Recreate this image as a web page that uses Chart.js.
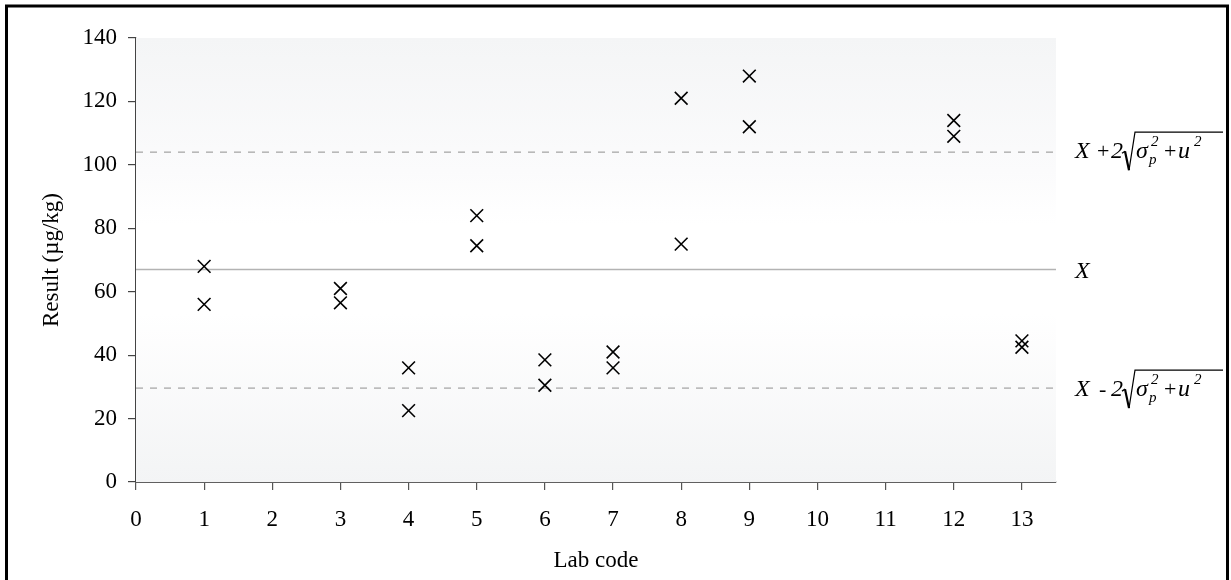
<!DOCTYPE html>
<html>
<head>
<meta charset="utf-8">
<script src="https://cdn.jsdelivr.net/npm/chart.js@4.4.1/dist/chart.umd.min.js"></script>
<style>
  html, body { margin: 0; padding: 0; background: #fff; }
  canvas { display: block; }
</style>
</head>
<body>
<canvas id="resultChart" width="1231" height="580"></canvas>
<script>
// two replicate results per lab
const labCodes = [1, 1, 3, 3, 4, 4, 5, 5, 6, 6, 7, 7, 8, 8, 9, 9, 12, 12, 13, 13]
const results = [68, 56, 61, 56.5, 36, 22.5, 84, 74.5, 38.5, 30.5, 41, 36, 121, 75, 128, 112, 114, 109, 44.5, 42.5]

const assignedValue = 67
const upperLimit = 104
const lowerLimit = 29.6

const xTicks = [0, 1, 2, 3, 4, 5, 6, 7, 8, 9, 10, 11, 12, 13]
const yTicks = [0, 20, 40, 60, 80, 100, 120, 140]
const xMax = 13.5

const serif = '"Liberation Serif", "Times New Roman", serif'

function refLine(value, dashed) {
  return {
    type: 'line',
    data: [{ x: 0, y: value }, { x: xMax, y: value }],
    borderColor: '#b3b3b3',
    borderWidth: 1.5,
    borderDash: dashed ? [7, 7] : [],
    pointRadius: 0,
    order: 2,
  }
}

// soft gray-white-gray fill behind the plot
const plotBackground = {
  id: 'plotBackground',
  beforeDatasetsDraw(chart) {
    const { ctx, chartArea: a } = chart
    const g = ctx.createLinearGradient(0, a.top, 0, a.bottom)
    g.addColorStop(0, '#f4f5f6')
    g.addColorStop(0.3, '#fbfbfc')
    g.addColorStop(0.42, '#ffffff')
    g.addColorStop(0.62, '#ffffff')
    g.addColorStop(1, '#f3f4f5')
    ctx.save()
    ctx.fillStyle = g
    ctx.fillRect(a.left, a.top, a.right - a.left, a.bottom - a.top)
    ctx.restore()
  },
}

function drawLimitLabel(ctx, x, y, sign) {
  ctx.fillStyle = '#000'
  ctx.strokeStyle = '#000'
  ctx.textBaseline = 'alphabetic'
  ctx.textAlign = 'left'
  ctx.font = 'italic 24px ' + serif
  ctx.fillText('X', x, y)
  ctx.font = '22px ' + serif
  ctx.fillText(sign, x + (sign === '+' ? 22 : 24), y)
  ctx.font = 'italic 24px ' + serif
  ctx.fillText('2', x + 36, y)
  // radical sign
  const r = x + 47
  ctx.lineWidth = 1.3
  ctx.beginPath()
  ctx.moveTo(r, y - 5)
  ctx.lineTo(r + 3, y - 7)
  ctx.stroke()
  ctx.lineWidth = 2.2
  ctx.beginPath()
  ctx.moveTo(r + 3, y - 7)
  ctx.lineTo(r + 7, y + 12)
  ctx.stroke()
  ctx.lineWidth = 1.2
  ctx.beginPath()
  ctx.moveTo(r + 7, y + 12)
  ctx.lineTo(r + 13, y - 26)
  ctx.lineTo(x + 148, y - 26)
  ctx.stroke()
  ctx.font = 'italic 24px ' + serif
  ctx.fillText('σ', x + 61, y)
  ctx.font = 'italic 15px ' + serif
  ctx.fillText('2', x + 76, y - 12)
  ctx.fillText('p', x + 74, y + 6)
  ctx.font = '22px ' + serif
  ctx.fillText('+', x + 89, y)
  ctx.font = 'italic 24px ' + serif
  ctx.fillText('u', x + 103, y)
  ctx.font = 'italic 15px ' + serif
  ctx.fillText('2', x + 119, y - 12)
}

const sideLabels = {
  id: 'sideLabels',
  afterDraw(chart) {
    const { ctx, chartArea: a, scales } = chart
    const x = a.right + 19
    ctx.save()
    drawLimitLabel(ctx, x, scales.y.getPixelForValue(upperLimit) + 6, '+')
    ctx.font = 'italic 24px ' + serif
    ctx.fillText('X', x, scales.y.getPixelForValue(assignedValue) + 8)
    drawLimitLabel(ctx, x, scales.y.getPixelForValue(lowerLimit) + 8, '-')
    // frame round the whole figure
    ctx.strokeStyle = '#000'
    ctx.lineWidth = 3
    ctx.strokeRect(6.5, 6, 1221, 620)
    ctx.restore()
  },
}

new Chart(document.getElementById('resultChart'), {
  type: 'scatter',
  data: {
    datasets: [
      {
        data: labCodes.map((lab, i) => ({ x: lab, y: results[i] })),
        pointStyle: 'crossRot',
        pointRadius: 9,
        pointHoverRadius: 9,
        borderColor: '#000',
        borderWidth: 1.6,
        order: 1,
      },
      refLine(upperLimit, true),
      refLine(assignedValue, false),
      refLine(lowerLimit, true),
    ],
  },
  options: {
    responsive: false,
    devicePixelRatio: 1,
    animation: false,
    layout: { padding: { left: 0, top: 38, right: 175, bottom: 0 } },
    plugins: { legend: { display: false }, tooltip: { enabled: false } },
    scales: {
      x: {
        type: 'linear',
        min: 0,
        max: xMax,
        afterBuildTicks: s => { s.ticks = xTicks.map(v => ({ value: v })) },
        afterFit: s => { s.height = 98 },
        grid: { drawOnChartArea: false, color: '#555', tickLength: 8, lineWidth: 1.2 },
        border: { color: '#606060', width: 2 },
        ticks: { color: '#000', font: { family: serif, size: 23 }, padding: 16, maxRotation: 0 },
        title: { display: true, text: 'Lab code', color: '#000', font: { family: serif, size: 23 }, padding: { bottom: 5 } },
      },
      y: {
        min: 0,
        max: 140,
        afterBuildTicks: s => { s.ticks = yTicks.map(v => ({ value: v })) },
        afterFit: s => { s.width = 136 },
        grid: { drawOnChartArea: false, color: '#444', tickLength: 8, lineWidth: 1.2 },
        border: { color: '#444', width: 1.2 },
        ticks: { color: '#000', font: { family: serif, size: 23 }, padding: 11 },
        title: { display: true, text: 'Result (µg/kg)', color: '#000', font: { family: serif, size: 23 }, padding: { top: 38 } },
      },
    },
  },
  plugins: [plotBackground, sideLabels],
})
</script>
</body>
</html>
